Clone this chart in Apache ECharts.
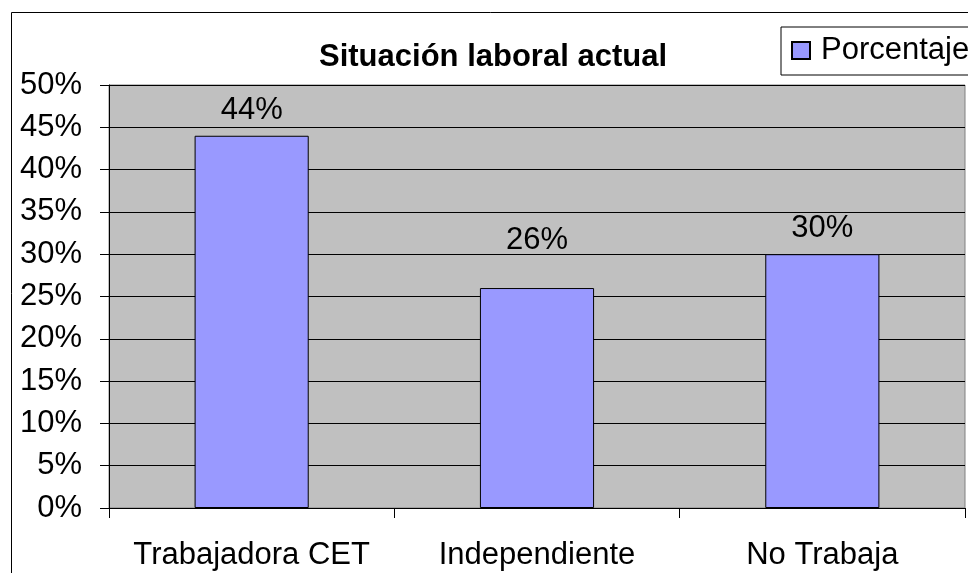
<!DOCTYPE html>
<html>
<head>
<meta charset="utf-8">
<script src="https://cdn.jsdelivr.net/npm/echarts@6/dist/echarts.min.js"></script>
<style>
  html, body { margin: 0; padding: 0; background: #ffffff; }
  #chart { width: 968px; height: 573px; }
</style>
</head>
<body>
<div id="chart"></div>
<script>
// datos
var categorias = ["Trabajadora CET", "Independiente", "No Trabaja"];
var porcentaje = [44, 26, 30];
var serieNombre = "Porcentaje";
var tituloTexto = "Situación laboral actual";

var fuente = "'Liberation Sans', Arial, sans-serif";

// la etiqueta de "Independiente" está desplazada hacia arriba en el original
var datosBarras = porcentaje.map(function (v, i) {
  if (i === 1) {
    return { value: v, label: { offset: [0, -22] } };
  }
  return v;
});

var chart = echarts.init(document.getElementById("chart"));
chart.setOption({
  animation: false,
  backgroundColor: "#ffffff",
  textStyle: { fontFamily: fuente },
  title: {
    text: tituloTexto,
    left: 488,
    textAlign: "center",
    top: 37,
    textStyle: { fontSize: 31, fontWeight: "bold", color: "#000", fontFamily: fuente }
  },
  legend: {
    data: [serieNombre],
    left: 781,
    top: 27,
    padding: [8, 12, 9, 10],
    itemWidth: 18,
    itemHeight: 17,
    itemGap: 8,
    borderColor: "#000",
    borderWidth: 1,
    icon: "rect",
    textStyle: { fontSize: 31, color: "#000", fontFamily: fuente, padding: [0, 0, 0, 6] }
  },
  // marco exterior del gráfico
  graphic: [
    {
      type: "rect",
      silent: true,
      shape: { x: 11.5, y: 12.5, width: 1000, height: 600 },
      style: { fill: null, stroke: "#000", lineWidth: 1 }
    }
  ],
  grid: {
    left: 109,
    right: 3,
    top: 85,
    bottom: 65,
    show: true,
    backgroundColor: "#c0c0c0",
    borderColor: "#808080",
    borderWidth: 1
  },
  xAxis: {
    type: "category",
    data: categorias,
    axisLine: { show: true, lineStyle: { color: "#000", width: 1 } },
    axisTick: { show: true, length: 10, alignWithLabel: false, lineStyle: { color: "#000" } },
    axisLabel: { interval: 0, fontSize: 31, color: "#000", margin: 32, fontFamily: fuente }
  },
  yAxis: {
    type: "value",
    min: 0,
    max: 50,
    interval: 5,
    axisLine: { show: true, lineStyle: { color: "#000", width: 1 } },
    axisTick: { show: true, length: 9, lineStyle: { color: "#000" } },
    axisLabel: { fontSize: 31, color: "#000", margin: 27, formatter: "{value}%", fontFamily: fuente },
    splitLine: { show: true, lineStyle: { color: "#000", width: 1 } }
  },
  series: [
    {
      name: serieNombre,
      type: "bar",
      data: datosBarras,
      barWidth: "40%",
      itemStyle: { color: "#9999ff", borderColor: "#000", borderWidth: 1 },
      label: {
        show: true,
        position: "top",
        distance: 10,
        formatter: "{c}%",
        fontSize: 31,
        color: "#000",
        fontFamily: fuente
      }
    }
  ]
});
</script>
</body>
</html>
